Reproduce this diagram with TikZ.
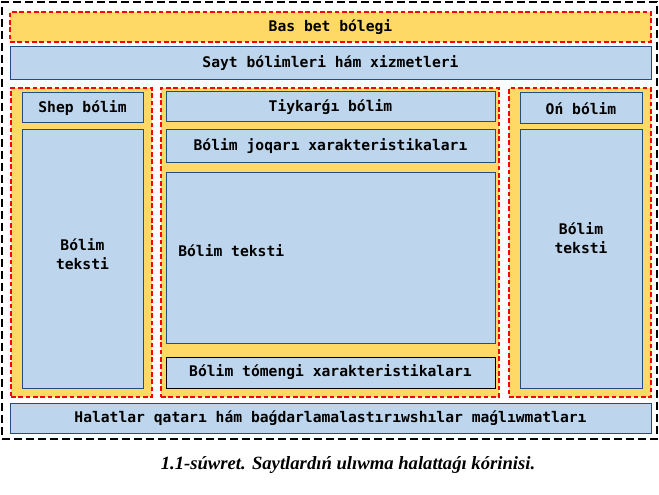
\documentclass[tikz,border=0pt]{standalone}
\usepackage{fontspec}
\setmonofont{DejaVu Sans Mono}
\newfontfamily\captionfont{Liberation Serif}
\usepackage{xcolor}
\usepackage{tikz}
\usetikzlibrary{positioning}

\definecolor{panelyellow}{RGB}{255,217,102}
\definecolor{panelblue}{RGB}{190,214,237}
\definecolor{edgeblue}{RGB}{38,76,122}

\begin{document}
\begin{tikzpicture}[
    x=0.75pt, y=-0.75pt,
    frame/.style={rectangle, draw=black, line width=1pt, dash pattern=on 6pt off 3pt, inner sep=0pt},
    zone/.style={rectangle, draw=red, fill=panelyellow, line width=0.8pt, dash pattern=on 3.5pt off 2pt, inner sep=0pt},
    block/.style={rectangle, draw=edgeblue, fill=panelblue, line width=0.75pt, inner sep=0pt, align=center,
        font=\fontsize{11}{14}\selectfont\ttfamily\bfseries},
    plaintext/.style={inner sep=0pt, align=center, font=\fontsize{11}{14}\selectfont\ttfamily\bfseries}
]
    \useasboundingbox (0,0) rectangle (659,495);

    \node[frame, minimum width=491.25pt, minimum height=327.75pt] (page) at (329.5,220.5) {};

    \node[zone, plaintext, minimum width=480.75pt, minimum height=22.5pt] (header) at (330.5,27) {Bas bet bólegi};
    \node[block, minimum width=480.75pt, minimum height=24.75pt] (menu) at (330.5,63.5) {Sayt bólimleri hám xizmetleri};

    % three columns
    \node[zone, minimum width=105.75pt, minimum height=231.75pt] (leftzone) at (81.5,242.5) {};
    \node[zone, minimum width=253.5pt, minimum height=231.75pt] (mainzone) at (330,242.5) {};
    \node[zone, minimum width=106.5pt, minimum height=231.75pt] (rightzone) at (580,242.5) {};

    \node[block, minimum width=90.75pt, minimum height=22.5pt] (lefthead) at (82.5,108) {Shep bólim};
    \node[block, minimum width=90.75pt, minimum height=193.5pt] (leftbody) at (82.5,259) {};
    \node[plaintext] (lefttext) at (82.5,254) {Bólim\\teksti};

    \node[block, minimum width=246.75pt, minimum height=22.5pt] (mainhead) at (330.5,107) {Tiykarǵı bólim};
    \node[block, minimum width=246.75pt, minimum height=24.75pt] (maintop) at (330.5,146.5) {Bólim joqarı xarakteristikaları};
    \node[block, minimum width=246.75pt, minimum height=127.5pt] (mainbody) at (330.5,258) {};
    \node[plaintext, anchor=west] (maintext) at (178,251) {Bólim teksti};
    \node[block, draw=black, minimum width=246.75pt, minimum height=23.25pt] (mainbottom) at (330.5,372.5) {Bólim tómengi xarakteristikaları};

    \node[block, minimum width=91.5pt, minimum height=23.25pt] (righthead) at (581,108.5) {Oń bólim};
    \node[block, minimum width=91.5pt, minimum height=193.5pt] (rightbody) at (581,259) {};
    \node[plaintext] (righttext) at (581,238) {Bólim\\teksti};

    \node[block, minimum width=480.75pt, minimum height=22.5pt] (footer) at (330.5,418) {Halatlar qatarı hám baǵdarlamalastırıwshılar maǵlıwmatları};

    \node[inner sep=0pt, font=\fontsize{14}{16}\selectfont\captionfont\bfseries\itshape] (caption) at (348,465) {1.1-súwret. Saytlardıń ulıwma halattaǵı kórinisi.};
\end{tikzpicture}
\end{document}
